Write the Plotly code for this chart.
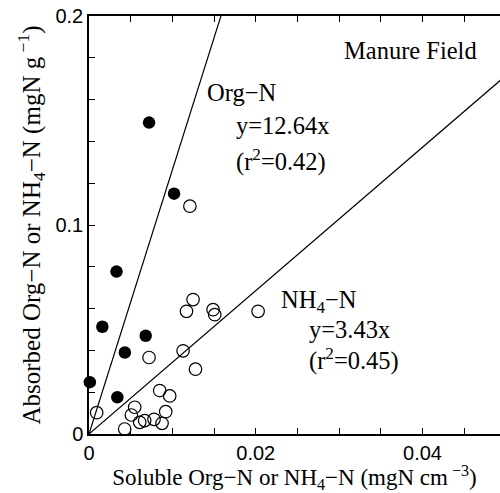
import plotly.graph_objects as go

# Data
org_x = [0.0072, 0.0102, 0.0033, 0.0016, 0.0068, 0.0043, 0.0001, 0.0034]
org_y = [0.149, 0.115, 0.0777, 0.0513, 0.047, 0.039, 0.0248, 0.0176]

nh4_x = [0.0121, 0.01248, 0.01169, 0.01488, 0.01508, 0.02028, 0.01128, 0.0072,
         0.01277, 0.00848, 0.00968, 0.00548, 0.0092, 0.00508, 0.00608, 0.00668,
         0.0078, 0.00876, 0.00428, 0.00092]
nh4_y = [0.109, 0.0643, 0.0587, 0.0595, 0.0571, 0.0587, 0.0398, 0.0366,
         0.031, 0.0208, 0.0182, 0.0128, 0.0107, 0.0091, 0.0056, 0.0064,
         0.0070, 0.0051, 0.0024, 0.0102]

slope_org = 12.64
slope_nh4 = 3.43

x_tick_vals = [i * 0.005 for i in range(10)]
x_tick_text = ["0", "", "", "", "0.02", "", "", "", "0.04", ""]
y_tick_vals = [i * 0.02 for i in range(11)]
y_tick_text = ["0", "", "", "", "", "0.1", "", "", "", "", "0.2"]

XMAX = 0.04929
SERIF = "Liberation Serif, Times New Roman, serif"
SANS = "Liberation Sans, Arial, sans-serif"

fig = go.Figure()

line_x = [0, 0.06]
fig.add_trace(go.Scatter(x=line_x, y=[slope_org * v for v in line_x], mode="lines",
                         line=dict(color="black", width=1.2), hoverinfo="skip"))
fig.add_trace(go.Scatter(x=line_x, y=[slope_nh4 * v for v in line_x], mode="lines",
                         line=dict(color="black", width=1.2), hoverinfo="skip"))

fig.add_trace(go.Scatter(x=nh4_x, y=nh4_y, mode="markers",
                         marker=dict(symbol="circle-open", size=12.5,
                                     color="black", line=dict(width=1.2)),
                         cliponaxis=False))
fig.add_trace(go.Scatter(x=org_x, y=org_y, mode="markers",
                         marker=dict(symbol="circle", size=12.5, color="black"),
                         cliponaxis=False))

ann = [
    ("Manure Field", 0.0304, 0.1837),
    ("Org−N", 0.0139, 0.1635),
    ("y=12.64x", 0.01737, 0.1474),
    ("(r<sup>2</sup>=0.42)", 0.01737, 0.1307),
    ("NH<sub>4</sub>−N", 0.02282, 0.0635),
    ("y=3.43x", 0.02609, 0.0500),
    ("(r<sup>2</sup>=0.45)", 0.02609, 0.0355),
]
for text, ax, ay in ann:
    fig.add_annotation(x=ax, y=ay, text=text, showarrow=False, xanchor="left",
                       yanchor="middle", font=dict(family=SERIF, size=24.5, color="black"))

fig.update_layout(
    width=500, height=493,
    margin=dict(l=89, r=0, t=16, b=59),
    paper_bgcolor="white", plot_bgcolor="white",
    showlegend=False,
    xaxis=dict(range=[0, XMAX], tickvals=x_tick_vals, ticktext=x_tick_text,
               ticks="inside", ticklen=6, tickwidth=1, tickcolor="black",
               showline=True, linecolor="black", linewidth=1.5, mirror="ticks",
               showgrid=False, zeroline=False,
               tickfont=dict(family=SANS, size=20, color="black"),
               title=dict(text="Soluble Org−N or NH<sub>4</sub>−N (mgN cm<sup> −3</sup>)",
                          font=dict(family=SERIF, size=23, color="black"), standoff=2)),
    yaxis=dict(range=[0, 0.2], tickvals=y_tick_vals, ticktext=y_tick_text,
               ticks="inside", ticklen=6, tickwidth=1, tickcolor="black",
               showline=True, linecolor="black", linewidth=1.5, mirror=False,
               showgrid=False, zeroline=False,
               tickfont=dict(family=SANS, size=20, color="black"),
               title=dict(text="Absorbed Org−N or NH<sub>4</sub>−N (mgN g<sup> −1</sup>)",
                          font=dict(family=SERIF, size=25, color="black"), standoff=8)),
)

fig.write_html("out.html")
